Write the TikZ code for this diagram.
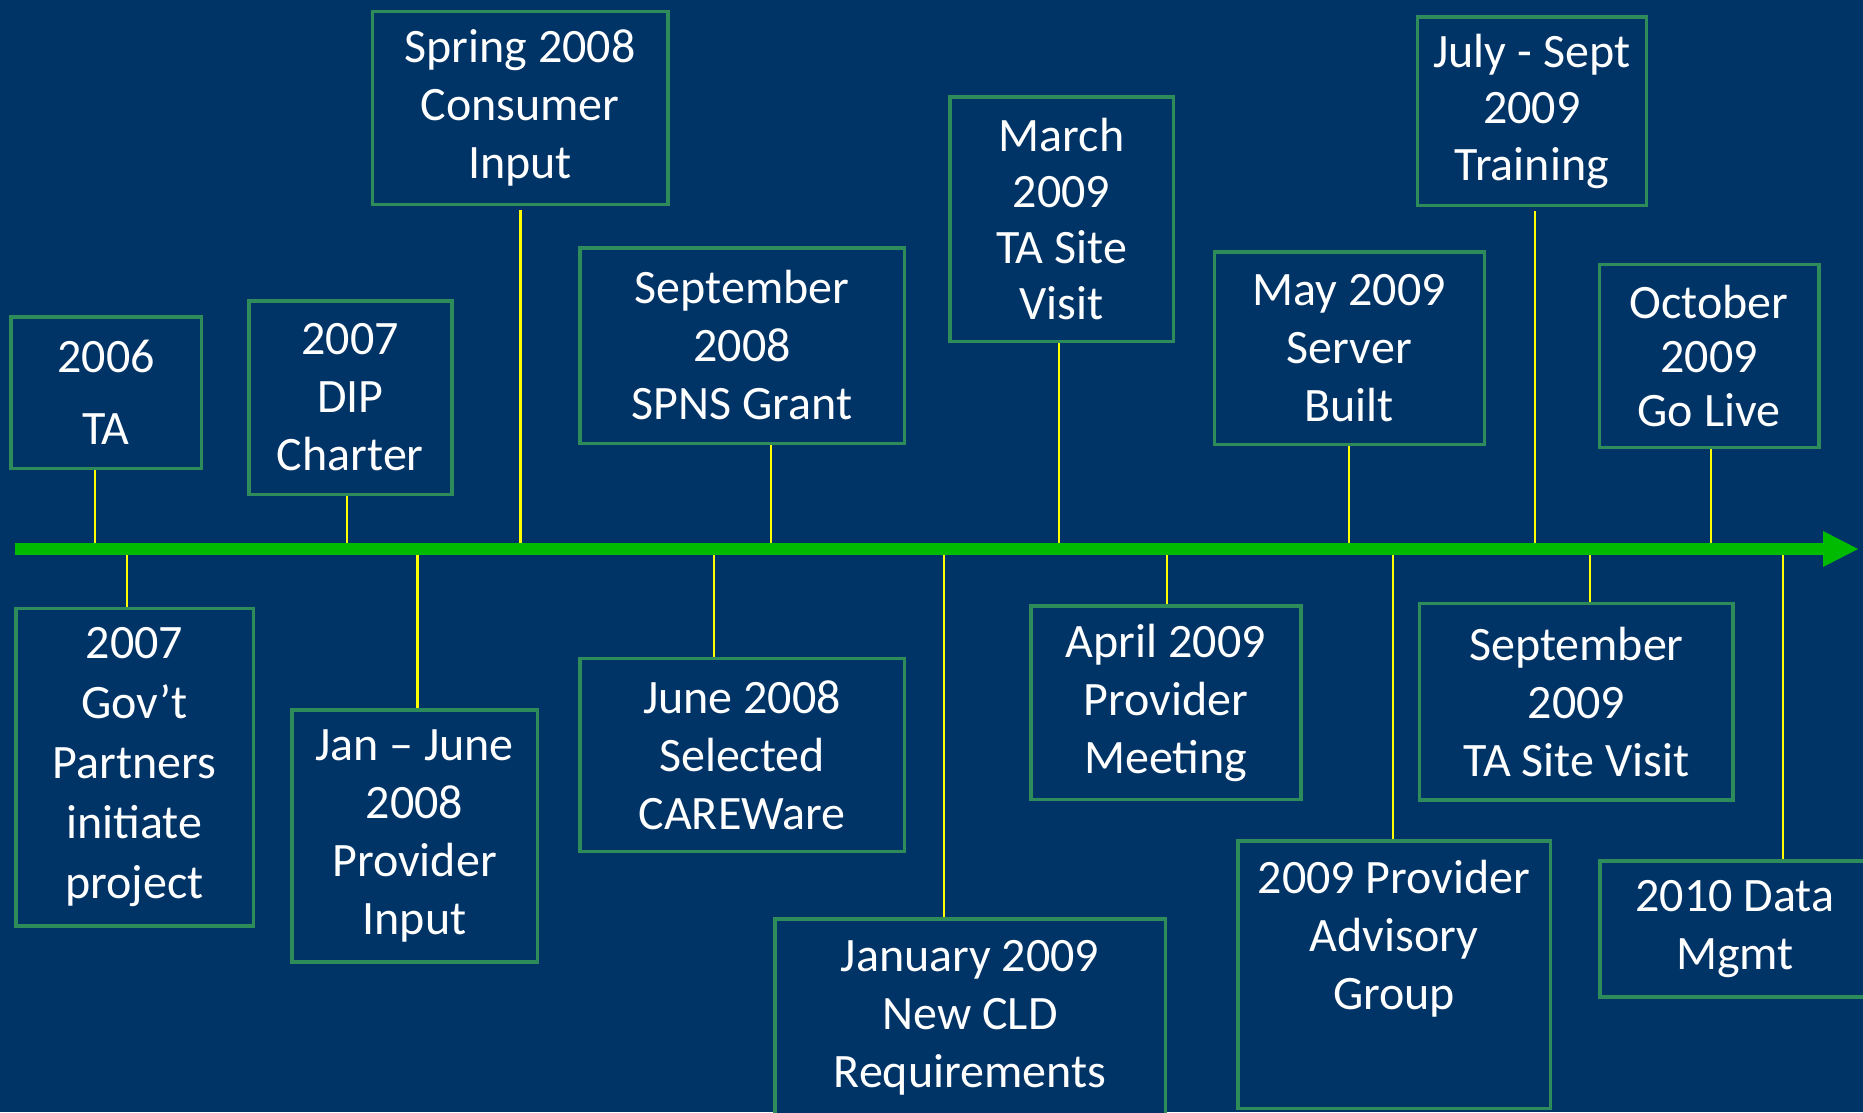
\documentclass[tikz,border=0pt]{standalone}
\usepackage{fontspec}
\setmainfont{Carlito}
\definecolor{navy}{RGB}{0,51,102}
\definecolor{boxgreen}{RGB}{46,139,90}
\definecolor{tlgreen}{RGB}{0,187,0}
\definecolor{tickyellow}{RGB}{255,255,0}
\tikzset{
  boxtext/.style={align=center, text=white, inner sep=0pt, font=\fontsize{48}{58}\selectfont},
  box/.style={boxtext, draw=boxgreen, line width=3.5pt, fill=navy},
  conn/.style={draw=tickyellow, line width=2pt},
  connthin/.style={conn, line width=1.5pt},
  connthick/.style={conn, line width=2.6pt},
  timeline/.style={draw=tlgreen, line width=12pt, line cap=butt}
}
\begin{document}
\begin{tikzpicture}[x=1pt,y=-1pt]
\useasboundingbox (0,0) rectangle (1863,1112);
\fill[navy] (0,0) rectangle (1863,1112);
\clip (0,0) rectangle (1863,1112);

% boxes above the timeline
\node[box, minimum width=190.5pt, minimum height=151.5pt] (ta) at (106,392.5) {2006\\[14pt]TA};
\node[box, minimum width=203pt, minimum height=193.5pt] (dip) at (350.3,397.5) {2007\\DIP\\Charter};
\node[box, minimum width=295.5pt, minimum height=193pt] (spring) at (520,107.8) {Spring 2008\\Consumer\\Input};
\node[box, minimum width=324.5pt, minimum height=195.5pt] (sepA) at (742,345.5) {September\\2008\\SPNS Grant};
\node[box, minimum width=223.5pt, minimum height=244.5pt, font=\fontsize{48}{56}\selectfont] (march) at (1061.5,219) {March\\2009\\TA Site\\Visit};
\node[box, minimum width=270pt, minimum height=192.5pt] (may) at (1349.3,348) {May 2009\\Server\\Built};
\node[box, minimum width=229pt, minimum height=188.5pt, font=\fontsize{48}{56.5}\selectfont] (july) at (1531.8,111) {July - Sept\\2009\\Training};
\node[box, minimum width=219.5pt, minimum height=183pt, font=\fontsize{48}{54}\selectfont] (oct) at (1709,355.8) {October\\2009\\Go Live};

% boxes below the timeline
\node[box, minimum width=237.5pt, minimum height=317.5pt, font=\fontsize{48}{60}\selectfont] (gov) at (134.5,767) {2007\\Gov’t\\Partners\\initiate\\project};
\node[box, minimum width=245.5pt, minimum height=252pt] (janjune) at (414.5,835.8) {Jan – June\\2008\\Provider\\Input};
\node[box, minimum width=324.5pt, minimum height=193pt] (juneA) at (742,754.9) {June 2008\\Selected\\CAREWare};
\node[box, minimum width=390.5pt, minimum height=197.5pt] (janB) at (970,1017.5) {January 2009\\New CLD\\Requirements};
\node[box, minimum width=270pt, minimum height=193.5pt] (april) at (1165.9,702.5) {April 2009\\Provider\\Meeting};
\node[box, minimum width=312.5pt, minimum height=267.5pt] (adv) at (1394,974.5) {};
\node[boxtext] (advtext) at (1394,939) {2009 Provider\\Advisory\\Group};
\node[box, minimum width=313.5pt, minimum height=196.5pt] (sepB) at (1576.4,701.5) {September\\2009\\TA Site Visit};
\node[box, minimum width=270.5pt, minimum height=136pt] (data) at (1735,929) {2010 Data\\Mgmt};

% points on the timeline
\coordinate (tlstart) at (15,549);
\coordinate (tlbase) at (1823,549);
\coordinate (tltip) at (1858,549);
\coordinate (xta) at (95,549);
\coordinate (xdip) at (347,549);
\coordinate (xspring) at (520.5,549);
\coordinate (xsepA) at (770.7,549);
\coordinate (xmarch) at (1059,549);
\coordinate (xmay) at (1349,549);
\coordinate (xjuly) at (1535,549);
\coordinate (xoct) at (1711,549);
\coordinate (xgov) at (127,549);
\coordinate (xjanjune) at (417.4,549);
\coordinate (xjuneA) at (714,549);
\coordinate (xjanB) at (944,549);
\coordinate (xapril) at (1166.7,549);
\coordinate (xadv) at (1393,549);
\coordinate (xsepB) at (1590,549);
\coordinate (xdata) at (1782.7,549);

% connectors
\draw[connthin] (xta |- ta.south) -- (xta);
\draw[conn] (xdip |- dip.south) -- (xdip);
\draw[connthick, shorten <=4pt] (xspring |- spring.south) -- (xspring);
\draw[conn] (xsepA |- sepA.south) -- (xsepA);
\draw[conn] (xmarch |- march.south) -- (xmarch);
\draw[connthick] (xmay |- may.south) -- (xmay);
\draw[connthick, shorten <=4pt] (xjuly |- july.south) -- (xjuly);
\draw[connthick] (xoct |- oct.south) -- (xoct);
\draw[conn] (xgov) -- (xgov |- gov.north);
\draw[connthick] (xjanjune) -- (xjanjune |- janjune.north);
\draw[conn] (xjuneA) -- (xjuneA |- juneA.north);
\draw[conn] (xjanB) -- (xjanB |- janB.north);
\draw[conn] (xapril) -- (xapril |- april.north);
\draw[conn] (xadv) -- (xadv |- adv.north);
\draw[conn] (xsepB) -- (xsepB |- sepB.north);
\draw[conn] (xdata) -- (xdata |- data.north);

% timeline arrow
\draw[timeline] (tlstart) -- ([xshift=2pt]tlbase);
\fill[tlgreen] (tltip) -- ([yshift=18pt]tlbase) -- ([yshift=-18pt]tlbase) -- cycle;
\end{tikzpicture}
\end{document}
